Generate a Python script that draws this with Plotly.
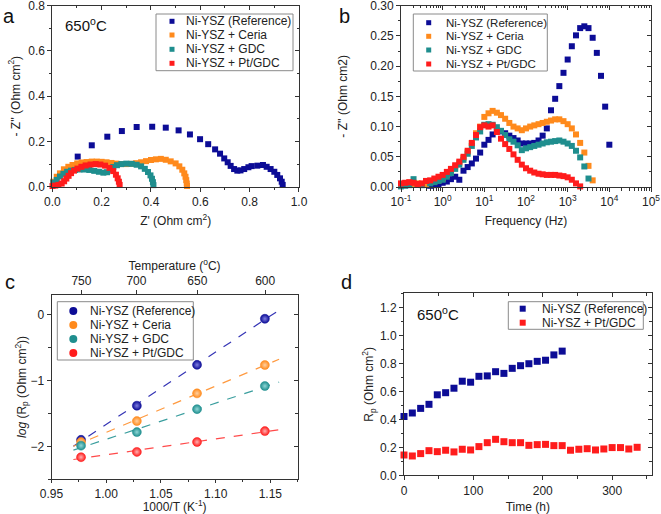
import plotly.graph_objects as go
import numpy as np

W, H = 661, 514
FONT = "Liberation Sans, Arial, sans-serif"
AX = "#333333"
C_REF, C_CER, C_GDC, C_PT = "#0c0c96", "#ff8a1c", "#1f8e8e", "#ff1c1c"

# ---------------- data: panel a (Nyquist, 650 C) ----------------
zre_ref = [0.103, 0.160, 0.223, 0.282, 0.342, 0.405, 0.460, 0.512, 0.558, 0.599, 0.632, 0.660,
           0.680, 0.697, 0.711, 0.723, 0.737, 0.750, 0.763, 0.778, 0.795, 0.808, 0.831, 0.854,
           0.869, 0.885, 0.900, 0.912, 0.923, 0.930, 0.934]
zim_ref = [0.133, 0.183, 0.221, 0.246, 0.264, 0.265, 0.261, 0.249, 0.231, 0.210, 0.188, 0.165,
           0.146, 0.125, 0.108, 0.092, 0.078, 0.071, 0.072, 0.078, 0.086, 0.091, 0.093, 0.096,
           0.088, 0.078, 0.066, 0.052, 0.037, 0.022, 0.008]
zre_cer = [0.004, 0.018, 0.031, 0.047, 0.065, 0.082, 0.101, 0.119, 0.139, 0.160, 0.180, 0.200,
           0.220, 0.240, 0.260, 0.280, 0.300, 0.320, 0.340, 0.360, 0.380, 0.400, 0.420, 0.440,
           0.460, 0.480, 0.500, 0.515, 0.527, 0.535, 0.540, 0.543, 0.545, 0.546]
zim_cer = [0.022, 0.044, 0.059, 0.077, 0.088, 0.096, 0.103, 0.107, 0.109, 0.111, 0.111, 0.110,
           0.108, 0.105, 0.102, 0.100, 0.100, 0.101, 0.104, 0.108, 0.113, 0.118, 0.121, 0.123,
           0.119, 0.112, 0.103, 0.090, 0.075, 0.059, 0.044, 0.029, 0.014, 0.003]
zre_gdc = [0.004, 0.018, 0.031, 0.045, 0.060, 0.076, 0.092, 0.110, 0.130, 0.150, 0.170, 0.189,
           0.207, 0.222, 0.234, 0.247, 0.262, 0.280, 0.300, 0.322, 0.342, 0.360, 0.375, 0.388,
           0.398, 0.404, 0.408, 0.410]
zim_gdc = [0.018, 0.030, 0.045, 0.057, 0.066, 0.071, 0.074, 0.076, 0.076, 0.074, 0.070, 0.066,
           0.062, 0.064, 0.075, 0.087, 0.095, 0.100, 0.102, 0.101, 0.097, 0.090, 0.079, 0.065,
           0.050, 0.035, 0.020, 0.007]
zre_pt = [0.001, 0.012, 0.025, 0.038, 0.048, 0.057, 0.066, 0.076, 0.088, 0.102, 0.118, 0.135,
          0.155, 0.176, 0.195, 0.214, 0.232, 0.247, 0.258, 0.265, 0.270, 0.273]
zim_pt = [0.003, 0.005, 0.008, 0.014, 0.024, 0.036, 0.048, 0.060, 0.071, 0.080, 0.088, 0.094,
          0.098, 0.100, 0.098, 0.093, 0.083, 0.069, 0.053, 0.037, 0.022, 0.008]

# ---------------- data: panel b (Bode, -Z'' vs frequency) ----------------
freq = [0.1, 0.126, 0.158, 0.2, 0.251, 0.316, 0.398, 0.501, 0.631, 0.794,
        1, 1.26, 1.58, 2, 2.51, 3.16, 3.98, 5.01, 6.31, 7.94,
        10, 12.6, 15.8, 20, 25.1, 31.6, 39.8, 50.1, 63.1, 79.4,
        100, 126, 158, 200, 251, 316, 398, 501, 631, 794,
        1000, 1259, 1585, 1995, 2512, 3162, 3981, 5012, 6310, 7943, 10000]
bz_ref = [None, None, None, None, None, None, None,
          0.002, 0.003, 0.005, 0.007, 0.009, 0.013, 0.017, 0.012, 0.027, 0.033, 0.039, 0.047,
          0.057, 0.070, 0.078, 0.087, 0.093, 0.092, 0.089, 0.085, 0.081, 0.077, 0.072, 0.072,
          0.072, 0.073, 0.077, 0.085, 0.097, 0.127, 0.146, 0.167, 0.189, 0.211, 0.233, 0.251,
          0.263, 0.266, 0.263, 0.247, 0.222, 0.184, 0.133, 0.070]
bz_cer = [None, 0.004, 0.007, 0.005, 0.006, 0.004, 0.005, 0.007, 0.009, 0.011,
          0.014, 0.020, 0.027, 0.034, 0.040, 0.048, 0.058, 0.072, 0.089, 0.100,
          0.116, 0.122, 0.126, 0.123, 0.119, 0.113, 0.106, 0.100, 0.097, 0.094,
          0.097, 0.100, 0.102, 0.104, 0.106, 0.108, 0.110, 0.112, 0.112, 0.109,
          0.104, 0.097, 0.087, 0.073, 0.057, 0.035, 0.011, None, None, None, None]
bz_gdc = [0.001, 0.002, 0.003, 0.013, 0.005, 0.003, 0.010, 0.006, 0.008, 0.010,
          0.012, 0.017, 0.023, 0.030, 0.037, 0.045, 0.055, 0.068, 0.082, 0.092,
          0.103, 0.104, 0.103, 0.099, 0.093, 0.086, 0.079, 0.075, 0.069, 0.061,
          0.064, 0.066, 0.068, 0.070, 0.072, 0.074, 0.075, 0.076, 0.077, 0.075,
          0.072, 0.068, 0.060, 0.049, 0.034, 0.014, None, None, None, None, None]
bz_pt = [0.006, 0.007, 0.008, 0.007, 0.005, 0.006, 0.010, 0.011, 0.014, 0.017,
         0.020, 0.025, 0.030, 0.036, 0.042, 0.050, 0.060, 0.073, 0.086, 0.099,
         0.102, 0.100, 0.102, 0.091, 0.080, 0.071, 0.063, 0.054, 0.045, 0.037,
         0.031, 0.027, 0.024, 0.022, 0.021, 0.020, 0.020, 0.020, 0.019, 0.018,
         0.016, 0.012, 0.006, 0.001, None, None, None, None, None, None, None]
freq_tick_labels = ["10<sup>-1</sup>", "10<sup>0</sup>", "10<sup>1</sup>", "10<sup>2</sup>",
                    "10<sup>3</sup>", "10<sup>4</sup>", "10<sup>5</sup>"]
freq_tick_vals = [0.1, 1, 10, 100, 1000, 10000, 100000]

# ---------------- data: panel c (Arrhenius) ----------------
inv_T = [0.977, 1.028, 1.083, 1.145]
logrp_ref = [-1.902, -1.385, -0.766, -0.068]
logrp_cer = [-1.936, -1.618, -1.198, -0.769]
logrp_gdc = [-1.990, -1.785, -1.437, -1.087]
logrp_pt = [-2.165, -2.085, -1.935, -1.770]
fit_span = [0.970, 1.158]
temp_tick_labels = [750, 700, 650, 600]

# ---------------- data: panel d (stability) ----------------
time_ref = [0, 12, 24, 36, 48, 60, 72, 84, 96, 108, 120, 132, 144, 156, 168, 180, 192, 204, 216, 228]
rp_ref = [0.42, 0.445, 0.478, 0.507, 0.575, 0.590, 0.622, 0.672, 0.665, 0.707, 0.710, 0.740,
          0.728, 0.764, 0.783, 0.797, 0.814, 0.822, 0.860, 0.887]
time_pt = [0, 12, 24, 36, 48, 60, 72, 84, 96, 108, 120, 132, 144, 156, 168, 180, 192, 204, 216,
           228, 240, 252, 264, 276, 288, 300, 312, 324, 336]
rp_pt = [0.145, 0.138, 0.155, 0.176, 0.169, 0.179, 0.167, 0.186, 0.181, 0.205, 0.233, 0.257,
         0.240, 0.233, 0.233, 0.214, 0.219, 0.221, 0.212, 0.212, 0.179, 0.186, 0.190, 0.181,
         0.188, 0.198, 0.198, 0.188, 0.200]

names = ["Ni-YSZ (Reference)", "Ni-YSZ + Ceria", "Ni-YSZ + GDC", "Ni-YSZ + Pt/GDC"]
colors = [C_REF, C_CER, C_GDC, C_PT]


def px(x):
    return x / W


def py(y):
    return 1 - y / H


fig = go.Figure()

# panel a
for xs, ys, c, n in zip([zre_ref, zre_cer, zre_gdc, zre_pt], [zim_ref, zim_cer, zim_gdc, zim_pt], colors, names):
    fig.add_trace(go.Scatter(x=xs, y=ys, mode="markers", name=n, showlegend=False, cliponaxis=False,
                             marker=dict(symbol="square", size=6, color=c), xaxis="x", yaxis="y"))
# panel b
for ys, c, n in zip([bz_ref, bz_cer, bz_gdc, bz_pt], colors, names):
    fig.add_trace(go.Scatter(x=freq, y=ys, mode="markers", name=n, showlegend=False, cliponaxis=False,
                             marker=dict(symbol="square", size=6, color=c), xaxis="x2", yaxis="y2"))
# panel c
light = ["#7f7fe0", "#ffd0a0", "#8fd6d6", "#ffb0b0"]
line_cols = ["#3535b5", "#ff9a40", "#3a9e9e", "#ff4a4a"]
for ys, lc in zip([logrp_ref, logrp_cer, logrp_gdc, logrp_pt], line_cols):
    k, b = np.polyfit(inv_T, ys, 1)
    fx = np.array(fit_span)
    fig.add_trace(go.Scatter(x=fx, y=k * fx + b, mode="lines", showlegend=False,
                             line=dict(color=lc, width=1.2, dash="dash"), xaxis="x3", yaxis="y3"))
for ys, c, lt, n in zip([logrp_ref, logrp_cer, logrp_gdc, logrp_pt], colors, light, names):
    fig.add_trace(go.Scatter(x=inv_T, y=ys, mode="markers", name=n, showlegend=False,
                             marker=dict(symbol="circle", size=9, color=c,
                                         gradient=dict(type="radial", color=lt),
                                         line=dict(width=0.5, color=c)),
                             xaxis="x3", yaxis="y3"))
# panel d
fig.add_trace(go.Scatter(x=time_ref, y=rp_ref, mode="markers", name=names[0], showlegend=False, cliponaxis=False,
                         marker=dict(symbol="square", size=7, color=C_REF), xaxis="x4", yaxis="y4"))
fig.add_trace(go.Scatter(x=time_pt, y=rp_pt, mode="markers", name=names[3], showlegend=False, cliponaxis=False,
                         marker=dict(symbol="square", size=7, color=C_PT), xaxis="x4", yaxis="y4"))

# empty traces so that the mirror (top / right) axes are registered and drawn
for xa, ya in [("x5", "y"), ("x", "y5"), ("x6", "y2"), ("x2", "y6"), ("x7", "y3"), ("x3", "y7"),
               ("x8", "y4"), ("x4", "y8")]:
    fig.add_trace(go.Scatter(x=[None], y=[None], mode="markers", showlegend=False, hoverinfo="skip",
                             xaxis=xa, yaxis=ya))

TF = dict(family=FONT, size=12, color="#222")


def ax(**kw):
    d = dict(showline=True, linecolor=AX, linewidth=1, mirror=True, ticks="outside", ticklen=4,
             tickwidth=1, tickcolor=AX, showgrid=False, zeroline=False, tickfont=TF,
             automargin=False, title_font=TF, ticklabeloverflow="allow")
    d.update(kw)
    return d


def mir(**kw):
    d = dict(showline=False, ticks="inside", ticklen=4, tickwidth=1, tickcolor=AX, showgrid=False,
             zeroline=False, showticklabels=False, automargin=False)
    d.update(kw)
    return d


DA = dict(x=[px(52.3), px(299)], y=[py(186.7), py(5.7)])
DB = dict(x=[px(401), px(651)], y=[py(187), py(5.7)])
DC = dict(x=[px(51.5), px(297.7)], y=[py(479.3), py(294.5)])
DD = dict(x=[px(404), px(651.7)], y=[py(475.3), py(293.3)])

RA_X, RA_Y = [0, 1.0001], [0, 0.8001]
RB_Y = [0, 0.3001]
RC_X, RC_Y = [0.95, 1.175], [-2.5, 0.3]
RD_X, RD_Y = [0, 357], [0, 1.3]

minor_log = [m * 10.0 ** e for e in range(-1, 5) for m in range(2, 10)]
temp_vals = [1000.0 / (t + 273.15) for t in temp_tick_labels]

fig.update_layout(
    width=W, height=H, margin=dict(l=0, r=0, t=0, b=0),
    paper_bgcolor="white", plot_bgcolor="white", font=dict(family=FONT, color="#222"),
    showlegend=False,
    # panel a
    xaxis=ax(domain=DA["x"], anchor="y", range=RA_X, dtick=0.2, tickformat=".1f",
             minor=dict(ticks="outside", ticklen=2.5, dtick=0.1, tickcolor=AX),
             title=dict(text="Z' (Ohm cm<sup>2</sup>)", standoff=8)),
    yaxis=ax(domain=DA["y"], anchor="x", range=RA_Y, dtick=0.2, tickformat=".1f",
             minor=dict(ticks="outside", ticklen=2.5, dtick=0.1, tickcolor=AX),
             title=dict(text="- Z'' (Ohm cm<sup>2</sup>)", standoff=5)),
    xaxis5=mir(overlaying="x", anchor="y", side="top", range=RA_X, dtick=0.2,
               minor=dict(ticks="inside", ticklen=2.5, dtick=0.1, tickcolor=AX)),
    yaxis5=mir(overlaying="y", anchor="x", side="right", range=RA_Y, dtick=0.2,
               minor=dict(ticks="inside", ticklen=2.5, dtick=0.1, tickcolor=AX)),
    # panel b
    xaxis2=ax(domain=DB["x"], anchor="y2", type="log", range=[-1, 5], tickmode="array",
              tickvals=freq_tick_vals, ticktext=freq_tick_labels,
              minor=dict(ticks="outside", ticklen=2.5, tickmode="array", tickvals=minor_log, tickcolor=AX),
              title=dict(text="Frequency (Hz)", standoff=8)),
    yaxis2=ax(domain=DB["y"], anchor="x2", range=RB_Y, dtick=0.05, tickformat=".2f",
              minor=dict(ticks="outside", ticklen=2.5, dtick=0.025, tickcolor=AX),
              title=dict(text="- Z'' (Ohm cm2)", standoff=20)),
    xaxis6=mir(overlaying="x2", anchor="y2", side="top", type="log", range=[-1, 5], tickmode="array",
               tickvals=freq_tick_vals,
               minor=dict(ticks="inside", ticklen=2.5, tickmode="array", tickvals=minor_log, tickcolor=AX)),
    yaxis6=mir(overlaying="y2", anchor="x2", side="right", range=RB_Y, dtick=0.05,
               minor=dict(ticks="inside", ticklen=2.5, dtick=0.025, tickcolor=AX)),
    # panel c
    xaxis3=ax(domain=DC["x"], anchor="y3", range=RC_X, dtick=0.05, tickformat=".2f", ticklen=3,
              minor=dict(ticks="outside", ticklen=2, dtick=0.025, tickcolor=AX),
              title=dict(text="1000/T (K<sup>-1</sup>)", standoff=10)),
    yaxis3=ax(domain=DC["y"], anchor="x3", range=RC_Y, dtick=1, tick0=0,
              minor=dict(ticks="outside", ticklen=2.5, dtick=0.5, tickcolor=AX),
              title=dict(text="<i>log</i> (R<sub>p</sub> (Ohm cm<sup>2</sup>))", standoff=0)),
    xaxis7=ax(overlaying="x3", anchor="y3", side="top", range=RC_X, mirror=False, showline=False,
              tickmode="array", tickvals=temp_vals, ticktext=[str(t) for t in temp_tick_labels],
              title=dict(text="Temperature (<sup>o</sup>C)", standoff=0)),
    yaxis7=mir(overlaying="y3", anchor="x3", side="right", range=RC_Y, dtick=1, tick0=0,
               minor=dict(ticks="inside", ticklen=2.5, dtick=0.5, tickcolor=AX)),
    # panel d
    xaxis4=ax(domain=DD["x"], anchor="y4", range=RD_X, dtick=100,
              minor=dict(ticks="outside", ticklen=2.5, dtick=50, tickcolor=AX),
              title=dict(text="Time (h)", standoff=8)),
    yaxis4=ax(domain=DD["y"], anchor="x4", range=RD_Y, dtick=0.2, tickformat=".1f",
              minor=dict(ticks="outside", ticklen=2.5, dtick=0.1, tickcolor=AX),
              title=dict(text="R<sub>p</sub> (Ohm cm<sup>2</sup>)", standoff=3)),
    xaxis8=mir(overlaying="x4", anchor="y4", side="top", range=RD_X, dtick=100,
               minor=dict(ticks="inside", ticklen=2.5, dtick=50, tickcolor=AX)),
    yaxis8=mir(overlaying="y4", anchor="x4", side="right", range=RD_Y, dtick=0.2,
               minor=dict(ticks="inside", ticklen=2.5, dtick=0.1, tickcolor=AX)),
)

shapes, annos = [], []


def legend(box, rows, mx, tx, items, sym, msize, fsize):
    x0, y0, x1, y1 = box
    shapes.append(dict(type="rect", xref="paper", yref="paper", x0=px(x0), x1=px(x1), y0=py(y1), y1=py(y0),
                       line=dict(color="#8a8a8a", width=1), fillcolor="white", layer="above"))
    for ry, (n, c) in zip(rows, items):
        h = msize / 2
        shapes.append(dict(type=sym, xref="paper", yref="paper", x0=px(mx - h), x1=px(mx + h),
                           y0=py(ry + h), y1=py(ry - h), line=dict(width=0), fillcolor=c, layer="above"))
        annos.append(dict(text=n, x=px(tx), y=py(ry), xref="paper", yref="paper", xanchor="left",
                          yanchor="middle", showarrow=False, font=dict(family=FONT, size=fsize, color="#222")))


items4 = list(zip(names, colors))
legend((156, 14, 293, 70.7), [21.3, 35, 49.3, 63.3], 172, 184, items4, "rect", 5, 12)
legend((413.3, 14, 547.3, 71), [22.7, 36.3, 50, 64], 428.7, 444, items4, "rect", 5, 11.5)
legend((57.3, 301.7, 193.3, 360), [311, 325, 339, 353], 73.3, 88, items4, "circle", 8, 12)
legend((508.3, 301.7, 643.3, 329.3), [308.7, 322.7], 522.7, 540, [items4[0], items4[3]], "rect", 6, 12)

# panel letters and temperature labels
for t, x, y in [("a", 9, 16), ("b", 344, 16), ("c", 10, 282), ("d", 346, 282)]:
    annos.append(dict(text=t, x=px(x), y=py(y), xref="paper", yref="paper", showarrow=False,
                      xanchor="center", yanchor="middle", font=dict(family=FONT, size=20, color="#111")))
for x, y in [(63, 24), (415, 313)]:
    annos.append(dict(text="650<sup>o</sup>C", x=px(x), y=py(y), xref="paper", yref="paper", showarrow=False,
                      xanchor="left", yanchor="middle", font=dict(family=FONT, size=15, color="#111")))

fig.update_layout(shapes=shapes, annotations=annos)
fig.write_html("out.html", config={"displayModeBar": False},
               post_script="document.body.style.margin='0';document.body.style.overflow='hidden';")
